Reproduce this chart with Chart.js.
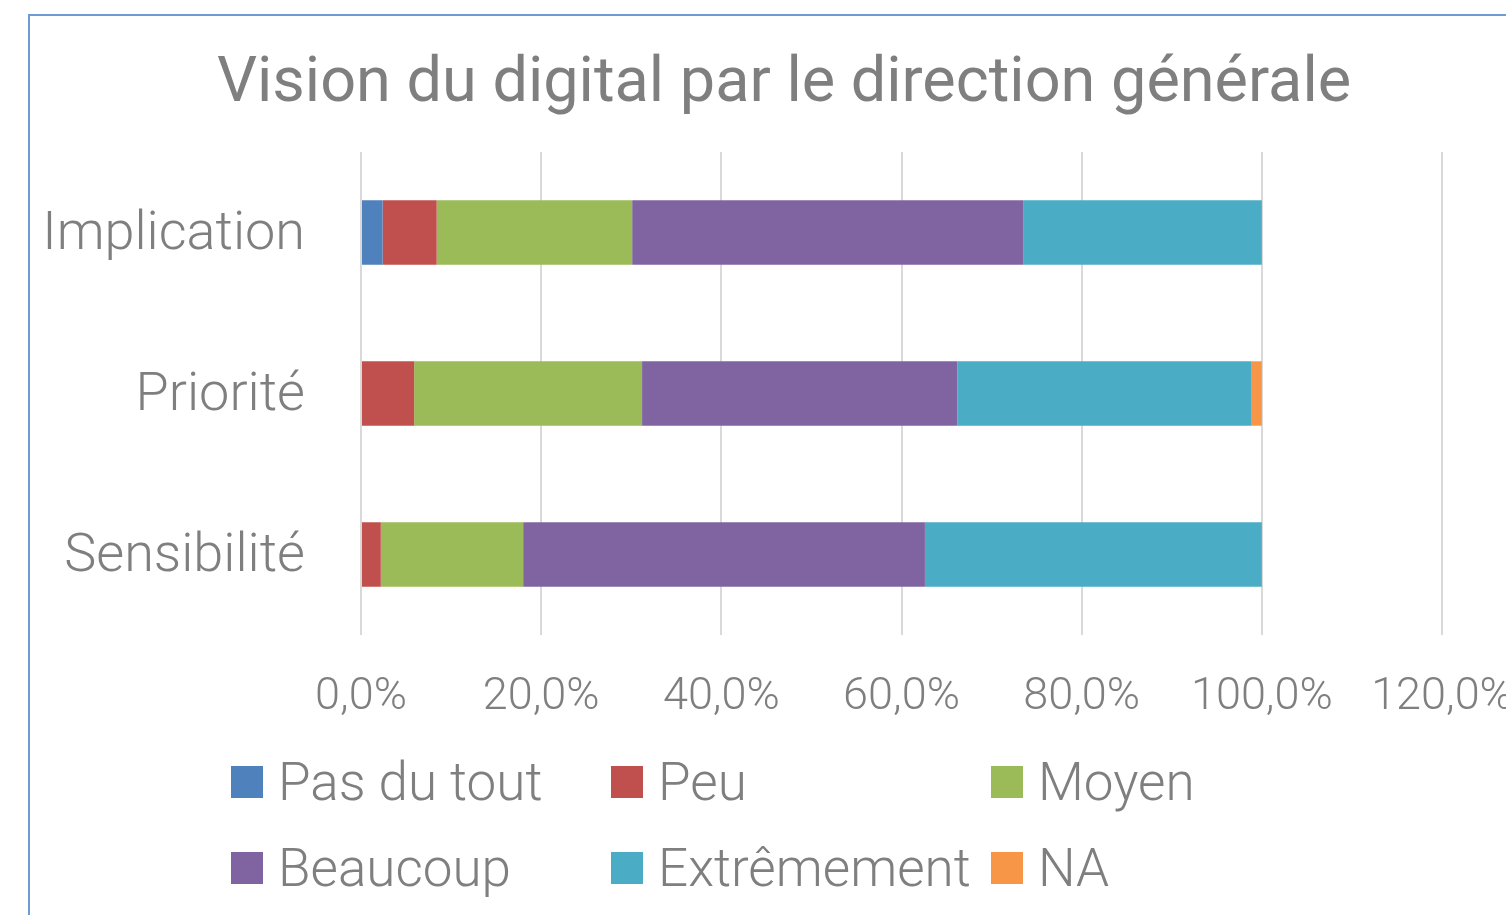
<!DOCTYPE html>
<html>
<head>
<meta charset="utf-8">
<script src="https://cdn.jsdelivr.net/npm/chart.js@4/dist/chart.umd.min.js"></script>
<style>
  html, body { margin: 0; padding: 0; background: #fff; overflow: hidden; width: 1506px; height: 915px; }
  #frame { position: absolute; left: 28px; top: 14px; width: 1560px; height: 1000px; border: 2px solid #6f9bd4; }
  #chart { position: absolute; left: 0; top: 0; }
  #legend { position: absolute; left: 201px; top: 723px; display: grid; grid-template-columns: 380px 380px 380px; grid-auto-rows: 86px;
            font-family: Roboto, sans-serif; font-weight: 300; font-size: 53px; color: #7f7f7f; }
  #legend .item { display: flex; align-items: center; white-space: nowrap; }
  #legend .box { width: 32px; height: 32px; margin-right: 15px; flex: none; }
</style>
</head>
<body>
<div id="frame">
  <canvas id="chart" width="1540" height="900"></canvas>
  <div id="legend"></div>
</div>
<script>
var categories = ['Implication', 'Priorité', 'Sensibilité'];
var seriesNames = ['Pas du tout', 'Peu', 'Moyen', 'Beaucoup', 'Extrêmement', 'NA'];
var seriesColors = ['#4f81bd', '#c0504d', '#9bbb59', '#8064a2', '#4bacc6', '#f79646'];

// percent values, one entry per category
var pasDuTout   = [2.4, 0, 0];
var peu         = [6.0, 5.9, 2.2];
var moyen       = [21.7, 25.3, 15.8];
var beaucoup    = [43.4, 35.0, 44.6];
var extremement = [26.5, 32.6, 37.4];
var na          = [0, 1.2, 0];

var xTicks = [0, 20, 40, 60, 80, 100, 120];

var seriesValues = [pasDuTout, peu, moyen, beaucoup, extremement, na];
var textColor = '#7f7f7f';

var datasets = [];
for (var i = 0; i < seriesNames.length; i++) {
  datasets.push({
    label: seriesNames[i],
    data: seriesValues[i],
    backgroundColor: seriesColors[i],
    borderWidth: 0,
    categoryPercentage: 0.8,
    barPercentage: 0.5
  });
}

var chart = new Chart(document.getElementById('chart'), {
  type: 'bar',
  data: { labels: categories, datasets: datasets },
  options: {
    indexAxis: 'y',
    responsive: false,
    animation: false,
    layout: { padding: { left: 0, right: 32, top: 0, bottom: 181 } },
    plugins: {
      legend: { display: false },
      tooltip: { enabled: false },
      title: {
        display: true,
        text: 'Vision du digital par le direction générale',
        color: textColor,
        font: { family: 'Roboto', size: 63, weight: 400, lineHeight: 1.2 },
        padding: { top: 31, bottom: 29.4 }
      }
    },
    scales: {
      x: {
        stacked: true,
        min: 0,
        max: 120,
        afterBuildTicks: function(scale){
          scale.ticks = xTicks.map(function(v){ return { value: v }; });
        },
        afterFit: function(scale){ scale.height = 100; },
        grid: { color: '#d9d9d9', lineWidth: 2, drawTicks: false },
        border: { display: false },
        ticks: {
          padding: 36,
          color: textColor,
          maxRotation: 0,
          font: { family: 'Roboto', size: 45, weight: 300 },
          callback: function(v){ return v.toFixed(1).replace('.', ',') + '%'; }
        }
      },
      y: {
        stacked: true,
        afterFit: function(scale){ scale.width = 331; },
        grid: { display: false, drawTicks: false },
        border: { display: false },
        ticks: {
          padding: 56,
          labelOffset: 3,
          color: textColor,
          font: { family: 'Roboto', size: 54, weight: 300 }
        }
      },
      // empty spacer on the right so the title centres like the original
      spacer: {
        type: 'category',
        labels: [],
        position: 'right',
        afterFit: function(scale){ scale.width = 96; },
        grid: { display: false, drawTicks: false },
        border: { display: false },
        ticks: { display: false }
      }
    }
  }
});

// legend in a fixed 3-column grid, built from the chart's datasets
var legend = document.getElementById('legend');
chart.data.datasets.forEach(function(ds){
  var item = document.createElement('div');
  item.className = 'item';
  var box = document.createElement('span');
  box.className = 'box';
  box.style.background = ds.backgroundColor;
  var txt = document.createElement('span');
  txt.textContent = ds.label;
  item.appendChild(box);
  item.appendChild(txt);
  legend.appendChild(item);
});
</script>
</body>
</html>
